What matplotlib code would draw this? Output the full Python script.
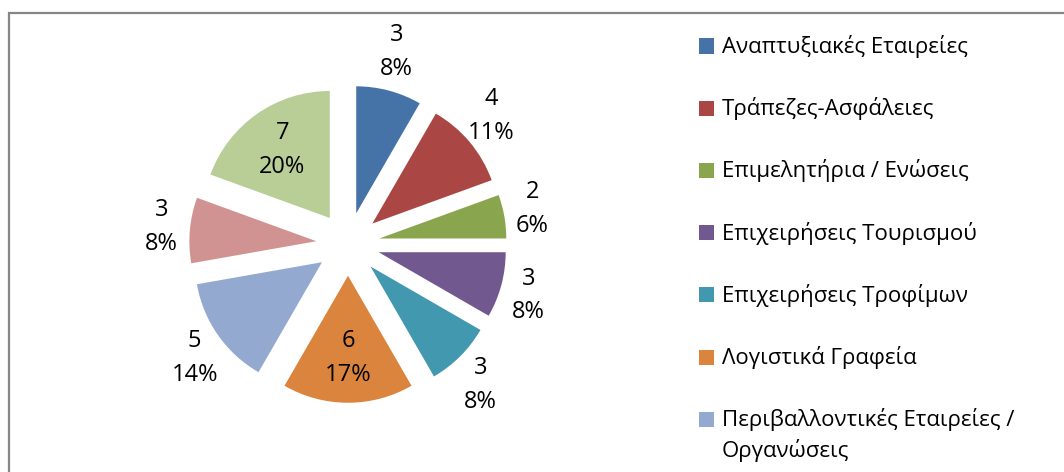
import matplotlib
matplotlib.use("Agg")
import matplotlib.pyplot as plt
from matplotlib.patches import Rectangle
import numpy as np

# data (last two legend entries are cut off in the original)
categories = ["Αναπτυξιακές Εταιρείες", "Τράπεζες-Ασφάλειες", "Επιμελητήρια / Ενώσεις",
              "Επιχειρήσεις Τουρισμού", "Επιχειρήσεις Τροφίμων", "Λογιστικά Γραφεία",
              "Περιβαλλοντικές Εταιρείες /\nΟργανώσεις", "", ""]
counts = [3, 4, 2, 3, 3, 6, 5, 3, 7]
percents = [8, 11, 6, 8, 8, 17, 14, 8, 20]
colors = ["#4572A7", "#AA4643", "#89A54E", "#71588F", "#4198AF",
          "#DB843D", "#93A9CF", "#D19392", "#B9CD96"]

plt.rcParams['font.family'] = ['Open Sans', 'DejaVu Sans']

W, H = 1064, 472
fig = plt.figure(figsize=(W / 100, H / 100), dpi=100)
ax = fig.add_axes([0, 0, 1, 1])

# pie geometry in pixel units
radius = 127
center = (348, H - 244)
wedges, _ = ax.pie(counts, colors=colors, startangle=90, counterclock=False,
                   radius=radius, center=center,
                   explode=[0.25 * radius] * len(counts))
ax.set_xlim(0, W)
ax.set_ylim(0, H)
ax.axis("off")

# data labels: value and percentage, big slices get them inside.
# outside labels: the label box sits just beyond an anchor on the bisector
half_w, half_h = 22, 34
for w, v, p in zip(wedges, counts, percents):
    theta = np.deg2rad((w.theta1 + w.theta2) / 2)
    cx, cy = w.center
    if v >= 6:
        x = cx + 0.65 * w.r * np.cos(theta)
        y = cy + 0.65 * w.r * np.sin(theta)
    else:
        x = cx + (1.05 * w.r + half_w) * np.cos(theta)
        y = cy + (1.05 * w.r + half_h) * np.sin(theta)
    ax.text(x, y, "%d\n%d%%" % (v, p),
            ha="center", va="center", fontsize=17, linespacing=1.55, color="black")

# legend drawn by hand so the marker sits on the first line
for i, (name, c) in enumerate(zip(categories, colors)):
    if not name:
        continue
    yc = 46 + i * 62.2
    fig.add_artist(Rectangle(((699) / W, 1 - (yc + 7.5) / H), 15 / W, 15 / H,
                             transform=fig.transFigure, facecolor=c, edgecolor="none"))
    fig.text(722 / W, 1 - (yc - 11) / H, name, ha="left", va="top",
             fontsize=16, linespacing=1.45)

# chart area border (runs off the right and bottom of the image)
fig.add_artist(Rectangle((8.5 / W, -0.05), 1.1, 1.05 - 12.5 / H,
                         transform=fig.transFigure, facecolor="none",
                         edgecolor="#868686", linewidth=1.6))

fig.savefig("out.png", dpi=100)
